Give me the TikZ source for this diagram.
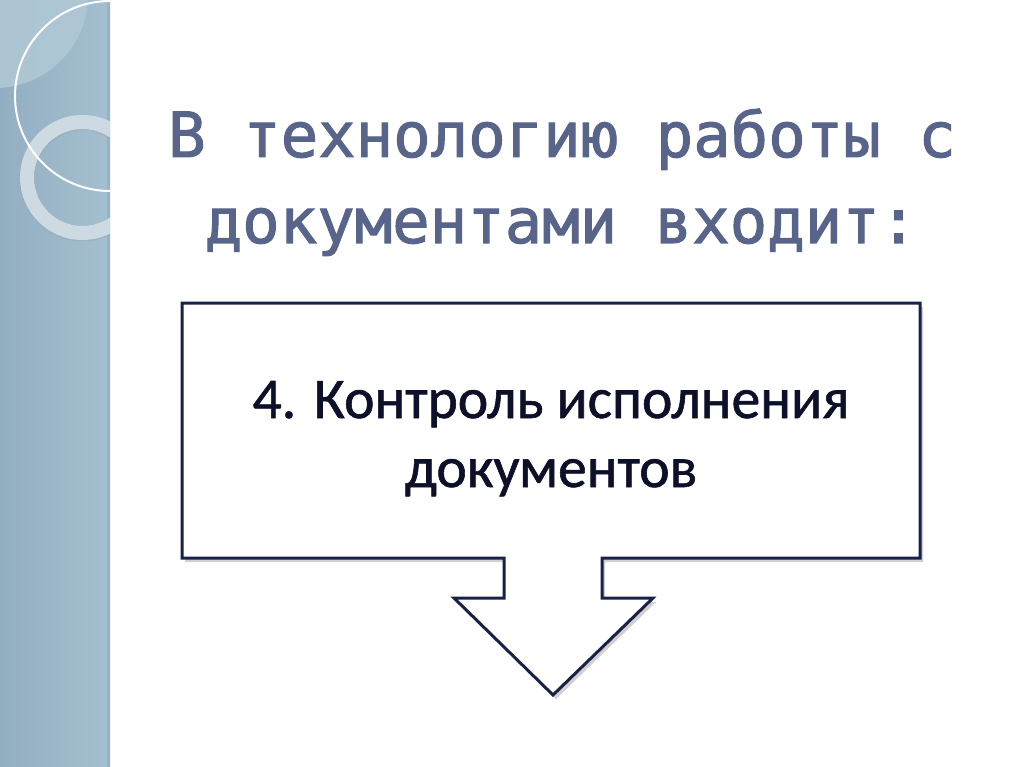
\documentclass[tikz,border=0pt]{standalone}
\usepackage{fontspec}
\newfontfamily\titlefont[FakeBold=1.6]{DejaVu Sans Mono}
\newfontfamily\bodyfont[FakeBold=1.0]{Carlito}
\usetikzlibrary{shadows}
\definecolor{stripL}{RGB}{146,174,193}
\definecolor{stripR}{RGB}{164,192,208}
\definecolor{stripHi}{RGB}{176,200,213}
\definecolor{ringC}{RGB}{208,221,229}
\definecolor{titleC}{RGB}{88,100,138}
\definecolor{boxC}{RGB}{24,34,72}
\definecolor{textC}{RGB}{12,16,40}
\tikzset{
  titletext/.style={font=\titlefont\fontsize{62.3}{70}\selectfont, text=titleC, anchor=base, inner sep=0pt},
  bodytext/.style={font=\bodyfont\fontsize{57.6}{69}\selectfont, text=textC, anchor=base, inner sep=0pt},
  callout/.style={draw=boxC, line width=3pt, fill=white, line join=miter,
    drop shadow={shadow xshift=3pt, shadow yshift=-4pt, opacity=0.3, fill=black!60}}
}
\begin{document}
\begin{tikzpicture}[x=1pt,y=-1pt]
\useasboundingbox (0,0) rectangle (1024,767);
\fill[white] (0,0) rectangle (1024,767);
% left strip
\shade[left color=stripL, right color=stripR] (0,0) rectangle (110,767);
\fill[stripL!85!black, opacity=0.3] (107,0) rectangle (110,767);
\begin{scope}
  \clip (0,0) rectangle (110,767);
  \fill[stripHi, opacity=0.9] (-5,-5) circle[radius=93];
  \draw[black!40, line width=15pt, opacity=0.25] (82.5,178.5) circle[radius=55.5];
  \draw[ringC, line width=14pt, opacity=0.95] (82.5,177.5) circle[radius=55.5];
  \draw[white, line width=2pt] (110,96) circle[radius=95];
\end{scope}
% title
\node[titletext] (title1) at (562,157) {В технологию работы с};
\node[titletext] (title2) at (561,243) {документами входит:};
% callout
\path[callout] (182,303) -- (920,303) -- (920,558) -- (602,558) -- (602,598)
  -- (653,598) -- (553,695) -- (454,598) -- (504,598) -- (504,558) -- (182,558) -- cycle;
\node[bodytext] (body1) at (551,418) {4. Контроль исполнения};
\node[bodytext] (body2) at (551,487) {документов};
\end{tikzpicture}
\end{document}
